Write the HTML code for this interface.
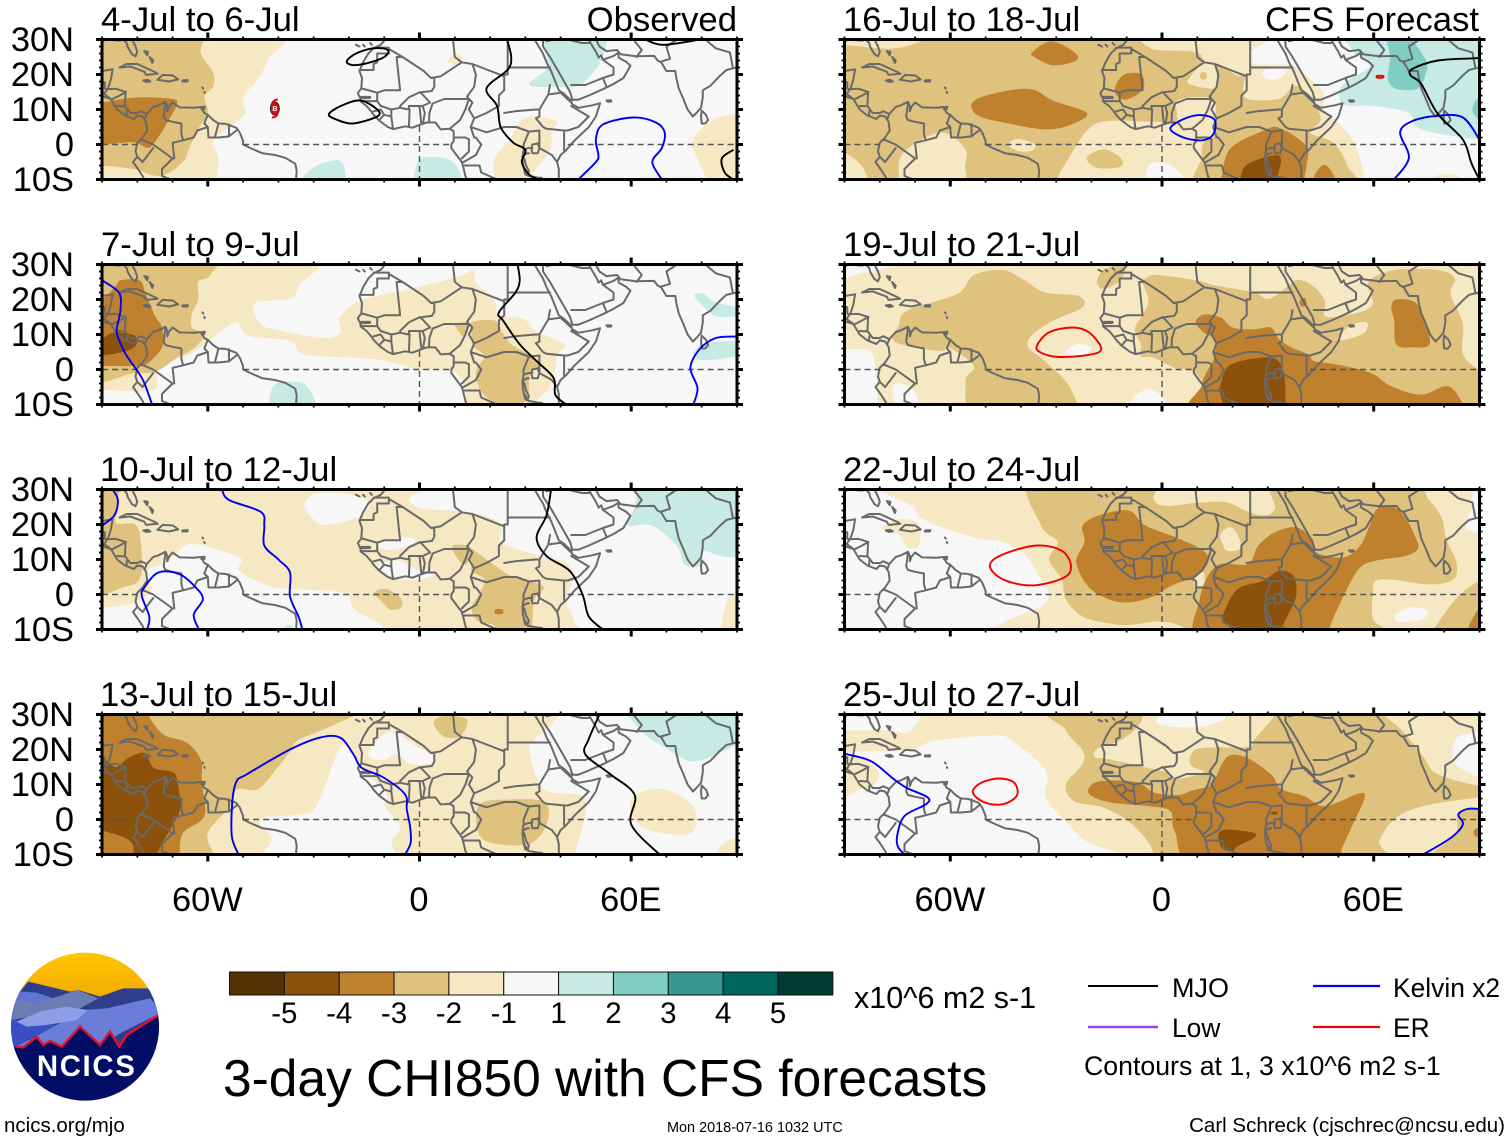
<!DOCTYPE html>
<html lang="en">
<head>
<meta charset="utf-8">
<title>3-day CHI850 with CFS forecasts</title>
<style>
html,body{margin:0;padding:0;background:#fff;}
svg{display:block;font-family:"Liberation Sans",Arial,sans-serif;fill:#000;}
</style>
</head>
<body>
<svg id="chart" xmlns="http://www.w3.org/2000/svg" width="1510" height="1142" viewBox="0 0 1510 1142">
  <rect x="0" y="0" width="1510" height="1142" fill="#fff"/>
  <g id="panels"></g>
  <g font-size="34.7">
    <text x="101" y="31">4-Jul to 6-Jul</text>
    <text x="101" y="256">7-Jul to 9-Jul</text>
    <text x="100" y="481">10-Jul to 12-Jul</text>
    <text x="100" y="706">13-Jul to 15-Jul</text>
    <text x="843" y="31">16-Jul to 18-Jul</text>
    <text x="843" y="256">19-Jul to 21-Jul</text>
    <text x="843" y="481">22-Jul to 24-Jul</text>
    <text x="843" y="706">25-Jul to 27-Jul</text>
    <text x="737" y="31" text-anchor="end">Observed</text>
    <text x="1479" y="31" text-anchor="end">CFS Forecast</text>
  </g>
  <g id="logo">
    <defs>
      <clipPath id="logoClip"><circle cx="255" cy="260" r="222"/></clipPath>
      <linearGradient id="sunGrad" x1="0" y1="0" x2="0" y2="1"><stop offset="0" stop-color="#ffc800"/><stop offset="1" stop-color="#f2a900"/></linearGradient>
    </defs>
    <g transform="translate(0,940) scale(0.33333)" clip-path="url(#logoClip)">
      <rect x="20" y="30" width="470" height="150" fill="url(#sunGrad)"/>
      <polygon fill="#2e3d8c" points="30,190 85,125 210,155 235,150 300,170 370,145 445,145 490,190 490,340 30,340"/>
      <polygon fill="#5f74d4" points="30,190 60,155 110,158 175,180 120,225 30,240"/>
      <polygon fill="#6d7db4" points="35,240 48,180 110,190 232,150 295,175 240,205 120,225"/>
      <polygon fill="#3a4ec6" points="30,238 175,255 90,295 30,325"/>
      <polygon fill="#6a7dd8" points="45,320 90,298 170,255 250,210 320,205 450,175 490,215 360,280 300,320 185,325 70,325"/>
      <polygon fill="#8e9ee6" points="50,245 120,215 200,200 262,210 230,240 140,255 80,260"/>
      <polygon fill="#020e66" points="20,322 45,320 70,322 110,290 130,315 150,303 185,320 240,260 300,315 330,275 358,320 380,285 490,215 490,500 20,500"/>
      <polyline fill="none" stroke="#e5102a" stroke-width="7" points="45,320 70,322 110,290 130,315 150,303 185,320 240,260 300,315 330,275 358,320 380,285 480,222"/>
      <text x="260" y="408" text-anchor="middle" font-family="Liberation Sans, sans-serif" font-weight="700" font-size="88" letter-spacing="5" fill="#fff">NCICS</text>
    </g>
  </g>
  <g id="colorbar"></g>
  <text x="854" y="1008" font-size="30.5">x10^6 m2 s-1</text>
  <text x="223" y="1096" font-size="51.5">3-day CHI850 with CFS forecasts</text>
  <g font-size="26.4">
    <line x1="1088" y1="986" x2="1158" y2="986" stroke="#000" stroke-width="2"/>
    <text x="1172" y="997" font-size="27">MJO</text>
    <line x1="1313" y1="986" x2="1380" y2="986" stroke="#0000ee" stroke-width="2.2"/>
    <text x="1393" y="997">Kelvin x2</text>
    <line x1="1088" y1="1027" x2="1158" y2="1027" stroke="#a040f0" stroke-width="2.6"/>
    <text x="1172" y="1037">Low</text>
    <line x1="1313" y1="1027" x2="1380" y2="1027" stroke="#f00000" stroke-width="2.2"/>
    <text x="1393" y="1037">ER</text>
    <text x="1084" y="1075" font-size="26.7">Contours at 1, 3 x10^6 m2 s-1</text>
  </g>
  <text x="4" y="1132" font-size="20.5">ncics.org/mjo</text>
  <text x="667" y="1132" font-size="14.45">Mon 2018-07-16 1032 UTC</text>
  <text x="1505" y="1132" font-size="20.5" text-anchor="end">Carl Schreck (cjschrec@ncsu.edu)</text>
</svg>
<script>
/* ---------- axis / legend values ---------- */
const latTickLabels = ["30N","20N","10N","0","10S"];
const latTickValues = [30,20,10,0,-10];
const lonTickLabels = ["60W","0","60E"];
const lonTickValues = [-60,0,60];
const colorbarLabels = ["-5","-4","-3","-2","-1","1","2","3","4","5"];
const colorbarColors = ["#543005","#8c510a","#bf812d","#dfc27d","#f6e8c3","#f7f7f7","#c7eae5","#80cdc1","#35978f","#01665e","#003c30"];
const levelLookup = {"-4":"#8c510a","-3":"#bf812d","-2":"#dfc27d","-1":"#f6e8c3","0":"#f7f7f7","1":"#c7eae5","2":"#80cdc1"};
const waveColors = {MJO:"#000000",Kelvin:"#0000ee",ER:"#f00000"};

/* ---------- map outlines (lon,lat) ---------- */
const coastLines = [
 [-90,29.3,-89,30,-85,29.7,-84,30],
 [-84,30,-83,29,-82.7,27.8,-81.5,25.8,-80.5,25.2,-80,26.5,-80.5,28,-81.5,30],
 [-90,21,-87,21.5,-87.5,18.5,-88.3,16,-88.8,15.8,-86,15.9,-83.3,15,-83.5,11,-82,9,-80,9,-79,9.5,-77.3,8.7,-75.5,10.7,-74,11.2,-72,12.2,-71.5,11,-71.5,9.5,-71,10.8,-70,12,-68,10.6,-64,10.5,-62,10.7,-61,9,-60,8.5,-58.5,7,-57,6,-55,5.9,-52,4.8,-51,3.5,-50,1,-50,0,-48,-1,-44.5,-2.5,-41,-3,-38,-3.8,-35.2,-5.5,-34.8,-7.5,-35,-10],
 [-90,13.8,-87.5,13,-85.7,10,-83.5,8.3,-81,7.3,-80,8.3,-78.5,8,-77.5,6.5,-77.2,4,-78.5,2,-80,0.5,-80.5,-2,-80,-3.5,-81.2,-5,-79.8,-7,-78.5,-9,-78,-10],
 [-85,22,-83,23,-80,23,-75,20.7,-74.2,20.2,-77.5,19.9,-78,20.8,-82,22.3,-85,22],
 [-74.3,18.5,-72.8,19.9,-69.9,19.7,-68.4,18.6,-71,18,-74.3,18.5],
 [-78.3,18.3,-77,18.5,-76.3,18,-77.5,17.9,-78.3,18.3],
 [-67.2,18.3,-65.7,18.4,-65.8,18,-67.2,18,-67.2,18.3],
 [-78,26.7,-77,26.5,-77.2,25.5,-78,26.7],
 [-76.5,25,-75.5,24,-75.7,23.3,-76.5,25],
 [-61.5,10.7,-60.9,10.8,-61,10.1,-61.8,10.1,-61.5,10.7],
 [-61.5,16.3,-61.3,16],[-61,15,-60.9,14.7],
 [-9.7,30,-11,28.5,-13,27.5,-14.5,26,-16,23.5,-17,21,-16.3,19,-16.5,16,-17.5,14.7,-16.7,13,-16.7,12.3,-15,11,-13.7,9.5,-13,8.5,-11.5,6.9,-9,5,-7.5,4.4,-4,5.2,-2,4.8,0,5.6,2,6.3,4.5,6.3,6,4.3,8.5,4.5,9.7,3.8,9.7,1,9,0,9,-1,10.5,-3,12,-5,12.3,-6,13,-9,13.5,-10],
 [39.5,-10,39.5,-7,39,-5,40,-3,41.5,-1.7,44,1.2,48,5,50,8,51.2,11.8,49,11.2,45,10.5,43.3,11.5,43,12.5,41,14.5,39.5,15.5,38.5,18,37.3,21,36,23.5,35,26,33.8,28,32.6,30],
 [35,30,35,28,37,25,39,21.5,41,18,42.7,15,43.3,12.8,45,12.8,48,14,52,15.8,55,17.3,57.8,19,59.8,22.5,58.5,23.7,56.5,24.8,56.3,26.2,55,25.3,52,24.2,51.5,25.5,50.8,24.8,50,26.5,48.5,29,48,30],
 [49,30,50,30,51,28,53,26.7,56,27,57,25.8,61.5,25.2,66.5,25.3,67.5,24,68.5,23.5,70,21,72.5,21,72.8,19,73.5,16,74.8,13,76,10,77.5,8,78.5,9,79.8,10.5,80.3,13.5,80.3,15.5,82.5,16.8,85,19.5,87,21.3,89,21.8,90,22],
 [80,9.7,81.2,8.5,81.8,7,81,6,80,6,79.8,8,80,9.7],
 [53,12.6,54.3,12.6,54.4,12.3,53.4,12.2,53,12.6],
 [32,0,33.5,0.3,34,-1,33.5,-2.5,32,-2.5,31.7,-1,32,0],
 [29.2,-3.5,29.3,-5.5,29.6,-7,30.7,-8.5,31,-7.5,30.2,-6,29.7,-4,29.2,-3.5],
 [34,-9.5,34.5,-10,35,-10,34.6,-9.5,34,-9.5],
 [-18,28.5,-17,28],[-16,28.5,-15.5,28],[-14,29,-13.5,28.5]
];
const borderLines = [
 [-13,27.7,-8.7,27.7,-8.7,26,-12,26,-12,23.5,-13,23,-13,21.3,-17,21.3],
 [-8.7,27.3,-4.8,25,-6.5,25,-5.5,15.5,-10,15.5,-12,14.8,-16.3,16],
 [-4.8,25,1.2,21,3.3,19,4.2,19,4.2,16.5,3.5,15.3,1,15,0.2,14.8],
 [-5.5,11,-3,13.5,0.2,15,3,12,0.9,11],
 [3.3,19,6,19.5,12,23.5,10,25,9.5,30],[12,23.5,15,23,24,19.5,24,20,25,20,25,30],[25,22,37,22],
 [15,23,16,20,15.5,16.5,13.5,13.7,14,13,12.5,13,7,13,3.7,11.7,2.8,9,2.7,6.3],
 [24,19.5,24,15.5,22.5,14,22.5,11,19,9,15.5,7.5,14,10,15,12,14,13],
 [14,13,13,10,11.5,7,8.7,4.6],[1,6,1.5,9,0.9,11],[-5.5,10.5,-3,10,-3,11,0,11,0.9,11],
 [-3,5,-2.8,10,-3,10],[0.5,6,0,11],[-8,8,-7.5,4.4],[-16.7,12.4,-12,12.4,-11,11,-8,10,-5.5,10.5,-5.5,11],
 [-8,10,-8,8,-10,8.5,-11.5,6.9],[-13,9.5,-11,10,-10,8.5],[-12,14.8,-12,12.4],
 [-16.6,13.6,-14,13.6,-14,13.3,-16.6,13.2],
 [24,9,27,9.5,33,10,34,10],[37,17,36.5,14.3,34,10,34,8,33,7.5,35,5,36,4.5,41,4,42,4],
 [41,4,41,-1.7],[42,4,45,5,48,8,43,11],[36.5,14.3,40,14.8,43,12],[34,4,34,1,34,-1,37.5,-3,39,-5],
 [31,3.7,34,4],[14.5,5,19,3.5,24,5,27.5,5,31,3.7,29.5,0,29.5,-1.5,29.2,-3.5],
 [10,2,13,2,14,1.5,14,-2,12,-4],[15.5,7.5,14.5,5,15.5,2,16,2,17.5,0,16,-3,12.5,-5],
 [12.5,-6,17,-6,17.5,-8,22,-10,22,-13],[31,-9,34,-9.5,35,-10,39.5,-10.5],[29.6,-7,30,-8.5,31,-9],[29.5,-1.5,30.8,-1,32,-1],[29.3,-3.2,30.5,-2.5,31,-2.5],
 [43,17,47,17,52,19,55,20,55,22,52,24.2],[52,19,53,16.5],[36,29.5,38,30],[42,30,46,29,48,29],
 [68.5,23.7,71,24.5,70,28,73,30],[61.5,25,63,27,61,29.5,61,30],[81,30,84,27.5,88,26.3,88.8,22],
 [-89.2,17.8,-89.2,15.9],[-90,17.8,-89.2,17.8],[-88.5,15.8,-89.4,14.4,-87.7,13.2],[-87,13,-85,14,-83.2,15],[-85.7,11,-83.7,10.9],[-83,9.5,-83,8.3],[-77.3,8.7,-77.9,7.2],
 [-72,12,-72.5,8,-72,7,-70,6.5,-67.5,6,-67.5,3,-67,1.2],[-60,8.5,-61,6,-60,5,-59.8,2,-57,2],[-57,6,-58,2],[-54,5.8,-54,2.3],[-51.5,4.3,-54,2.3,-57,2],
 [-60,5,-63,4,-64,2,-67,1.2,-70,0.5,-69.5,-4],[-79,1.5,-75.5,0,-70,-4],[-80,-3.5,-78.5,-5,-75.5,-1],[-70,-4,-73,-7,-73,-9,-70.5,-10]
];

/* ---------- contour fills per panel: [level, lon,lat outline] ---------- */
const fills4Jul = [
 [-1,[-95,34,-40,34,-43,24,-46,18.5,-50,13.4,-49.5,9,-53.7,5,-58.5,1.4,-57,-4,-57.6,-10,-57.6,-14,-95,-14]],
 [-2,[-95,34,-63.6,34,-62,26,-58.5,20.5,-58.5,16.5,-61,13.7,-60,9,-63,4,-65.5,-1.5,-67,-5,-73.5,-9,-81,-7,-90,-6,-95,-6]],
 [-3,[-95,12,-90,12,-81,13.4,-70,13,-69,11,-71.5,6.3,-74.5,1.4,-77,-1,-81,0.6,-90,0,-95,0]],
 [-1,[21,-5,25.5,1.4,29,7,34,8,39,6.5,37.5,4,37,-1.5,32.5,-8,30,-13,23,-13]],
 [-1,[77.5,1.4,83,7,89,8.5,95,8.5,95,-14,81.5,-12,81.5,-10,78.7,-4]],
 [-1,[8,24,10,26,12,25,11.5,23,9,23]],
 [1,[36,34,53,34,53,29,51,23,45.5,17,40,16.5,31,17,36,21.4,36,25]],
 [1,[-0.5,-5,4,-3.5,9.5,-5,12,-10,12,-14,-0.5,-14]],
 [1,[-33,-9.5,-29,-6,-22,-5,-22,-14,-33,-14]]
];
const fills7Jul = [
 [-1,[-31,34,-34.4,23.6,-36.7,20.2,-46.8,18.8,-45,13,-39,11,-27,9,-22.5,10.6,-22.5,15,-16.6,19.7,-4.7,22.6,10.7,26.4,15.4,28.4,16,25,21.3,19.7,22.5,15.4,29.6,14.4,33,11,41,7.2,39,4.3,38.5,0.5,36.7,-5.3,33,-9,31,-14,14,-14,13,-5.8,9.5,-0.5,0,0,-9.5,2.4,-19,3.4,-33,4.3,-36.7,8.2,-48.6,9.6,-52,13.5,-59,8.7,-65,4.3,-68,3.4,-74,0.5,-74.6,-5.3,-79.4,-6.3,-90,-5.8,-95,-6,-95,34]],
 [-2,[-95,34,-58.6,34,-59.3,27,-62.7,25,-62.7,20,-64.5,15.9,-64.5,12,-61,10,-64,6,-68.7,3.4,-74.6,-0.5,-80.6,-1,-95,-1]],
 [-2,[14.8,13.5,21.3,14,23.5,10.6,26,7.2,30.8,4.3,34.4,1.4,31.4,-1.4,30.8,-7.2,29.6,-9.3,25,-10.5,20,-8.7,17.2,-5.8,16,-0.5,18.4,3.8,15.2,6.7,14.8,10.6]],
 [-2,[10,13,13,13.5,14.2,12.5,12.4,9.6,10.7,11.5]],
 [-3,[-95,18,-90,20,-86,24,-84.7,25.5,-79.4,25.5,-77.6,21.6,-75,15.4,-73,12,-73,6.3,-77.6,1.4,-81,1,-89,1,-95,1]],
 [-4,[-95,9,-90,9,-86.5,10.6,-80.6,9.6,-80.6,6.7,-85,4.8,-95,4]],
 [1,[-41.5,-4.8,-35.5,-3.5,-32,-4.8,-29.6,-9,-29.6,-14,-41.5,-14]],
 [1,[78,21,80.6,21.7,84,19.2,93,17,93,15.8,85.3,15,81.8,16.8]],
 [1,[78,5.3,81.8,7.7,95,8,95,5.3,85.3,3,78.5,3]]
];
const fills10Jul = [
 [-1,[-95,34,-3.5,34,-3,27,1,24.5,10.7,23.9,20,22,23.3,19,23.3,15,32.3,11.5,41.7,9,43.5,4.3,41.5,-1.4,44,-8,45,-14,-9.5,-14,-10.6,-9,-18.4,-4.3,-21.4,0.5,-33,1.4,-42.6,2.4,-51,6.7,-51,10.6,-64,14.4,-68.7,12,-72,9,-77,7,-76.4,3.4,-76,1,-80.6,-2.4,-90,-3.8,-95,-4]],
 [0,[-32.6,26,-29.6,28.8,-21.3,28.8,-14.2,26.4,-16.6,22.6,-22.5,20.5,-27.8,20,-31.4,23]],
 [0,[-11.8,15,-3.5,16.3,-1.2,15,-6,13,-10.6,13]],
 [0,[-11.8,8.2,-6,9.6,1.2,6.3,4,5.8,0,4.3,-7,4.8]],
 [-1,[86,-14,86.5,-4.3,89,0,95,0,95,-14]],
 [-2,[-95,34,-86,34,-85.5,25,-86,20.5,-80.6,20,-79,15,-79,5.3,-83,2.4,-95,2]],
 [-2,[-12.8,0.5,-9.5,1.6,-5.3,-1,-5.3,-3.8,-8.3,-4.3,-10.7,-2]],
 [-2,[9.5,14,13.6,14,15,13,19,10,26,5.3,35,2.4,32.6,-1.4,32,-9,33,-14,21.3,-14,21.3,-9,16.6,-7.7,14.8,-3.8,17.2,0.5,18.4,4.3,14.8,6.7,14.8,9.6,12.4,8.6,10,11.5]],
 [-3,[21.5,-4.3,23.5,-4.3,23.5,-5.5,21.5,-5.5]],
 [1,[61,34,95,34,95,10.6,90,10.6,85.3,11,80,12.5,79.4,8.2,75,8.7,72.9,14,65.8,19.7,59.2,19.7,60.4,23.6,61.6,28.4]],
 [1,[-38,-9,-36,-9,-35,-12,-38,-12]]
];
const fills13Jul = [
 [-1,[-95,34,30,34,31,20,35.5,8.6,47,5.7,44,-10,44,-14,-95,-14]],
 [0,[-22.5,20.5,-19.7,20,-16.9,14.8,-9.3,7.6,-9.8,3.8,-5.5,-1.9,-7.9,-6.6,-8.4,-14,-44.3,-14,-41.9,-5.7,-45.2,0,-33,1.5,-29.2,3.8,-25.4,13.4]],
 [0,[-14,20,-10.2,24.3,-6.5,24.8,-1.7,21.4,4,18,3,16,-2.7,16,-6.5,18.6,-10.2,17,-14,17.6]],
 [-2,[4,27.6,6.8,29.5,13.4,28.6,11.5,23.8,6.8,23.8]],
 [-2,[17,4.3,25.6,5.7,35.5,4.9,36,-1.4,31,-7,20,-6.6,16.5,-3]],
 [-1,[61,7,69.6,8.6,78,3,76.7,-4,65,-3,60,1.5]],
 [-1,[84,-14,85,-8,90,-5,95,-5,95,-14]],
 [1,[60,34,62.5,25.7,69.6,20.6,78,16.6,90,21.4,95,24,95,34]],
 [-2,[-95,34,-10,34,-17.8,30,-27.2,25.7,-34.8,22.4,-37,19,-41.4,13.4,-46,8.6,-51.8,8.6,-53.7,3.8,-60,-3.8,-58.4,-10,-58,-14,-95,-14]],
 [-3,[-95,34,-77,34,-76.9,30,-72.6,24.3,-66,22,-62,17,-61.7,10.5,-61,1,-67,-3.8,-68,-10,-68,-14,-95,-14]],
 [-4,[-95,18,-90,17.5,-86,15,-82.5,17.6,-77.8,19,-75.4,14.8,-69.8,13.4,-68.4,9.6,-67.9,2.9,-70.7,-2.8,-74.5,-10,-75,-14,-81,-14,-81.6,-6.6,-89.6,-3.3,-95,-3]]
];
const fills16Jul = [
 [-1,[-95,34,22,34,25,26,26,23,36.7,22.6,41.5,19.2,45.6,14.9,46.2,10,49.8,6.3,54.5,0.5,57.5,-10,57.5,-14,-95,-14]],
 [-1,[75.5,-14,76,-10,80,-8.5,85,-9.5,87,-14]],
 [0,[28.4,20.7,32,22,35.5,21,33,18.8,29.6,18.8]],
 [0,[-4,-6.7,-1.2,-5,3,-6.3,8.3,-12,8,-14,-4,-14]],
 [-2,[-95,28,-90,28.4,-77,27.4,-68.7,29.3,-60,34,-15,34,-4.7,28.4,-1.2,27,9.5,26.4,11.3,23.6,8.3,19.7,7.7,17.3,15.4,16.3,15.4,23,21.3,19.7,23.7,20.2,23,15.9,24.3,13,33,13,38,16.8,42,13.5,45,7.2,42,3.4,48.6,0.5,52.7,-6.3,54,-14,12,-14,11.3,-3.4,11.8,0.5,14.8,2.4,15,6,14.8,12.5,10,13.5,4.3,12.5,4.2,8.6,2.4,6.5,-15.4,6.7,-21.4,3.8,-26.7,-4.3,-29.6,-9.8,-30,-14,-52,-14,-55.7,-7.2,-55.7,-1.4,-62.7,3.4,-73.4,-2.4,-74.6,-10,-74.6,-14,-81,-14,-85,-6.3,-90,-2.4,-95,-2]],
 [-1,[-43.2,0.7,-40.3,1.6,-36,0,-36.7,-1.6,-40.3,-2,-43,-0.7]],
 [-2,[-21.3,-3.8,-16.6,-1.4,-11.8,-3.8,-11.8,-6.3,-18.4,-6.7]],
 [-2,[11,20.5,12.5,20.5,12.5,18.8,11,18.8]],
 [-3,[-36.7,26.4,-31.4,29.5,-24.9,26.4,-24.3,24,-30.8,22.6,-36.2,25]],
 [-3,[-54,11.5,-49.8,14,-37.9,15.9,-30.8,12.5,-21.3,9,-25.5,5.8,-33,4.3,-45,6.3,-52,8.2]],
 [-3,[-13.3,16.3,-10.7,20,-5.9,20,-5.3,15.9,-9.5,13,-12.4,13.5]],
 [-3,[17.2,-8.2,19.5,-1,28.4,3.8,33.2,4.8,40.9,-0.5,40.9,-6.3,40.3,-10,40,-14,17,-14]],
 [-3,[43.2,-9,46.2,-5.8,49.2,-10,49.2,-14,43.2,-14]],
 [-4,[22.7,-7.7,26,-4.8,33.2,-3.2,33,-8.2,30.8,-12,30.8,-14,23,-14]],
 [1,[54,34,54.5,26.4,59.2,22.6,51,16.8,51.5,11.5,60.4,11,70,9,73.5,4.3,90,1.4,95,1,95,34]],
 [2,[62.8,34,67,34,74.6,24.5,74.6,19.7,72.3,15.9,66.4,15.9,64,18.8,64.6,25.5]],
 [2,[90,13.5,88,10,90,7.2,95,7,95,14]]
];
const fills19Jul = [
 [-1,[-95,34,95,34,95,-14,-95,-14]],
 [0,[-95,34,-76,34,-76,30,-85,27.5,-90,26,-95,26]],
 [0,[-95,6,-90,5.8,-83,5.3,-81,-0.5,-80.6,-10,-80.6,-14,-95,-14]],
 [0,[-76.4,-5.3,-74,-4,-69.5,-7.2,-69.5,-14,-74.6,-14]],
 [0,[-9.5,-10,-4.7,-5.8,0,-7.7,1.8,-14,-9.5,-14]],
 [0,[-27.3,4.8,-24.3,7.2,-20,6.3,-22.5,3.8]],
 [-2,[-74.6,12.5,-72.3,16.8,-58,21.6,-53.3,27,-45,28.4,-39,25.5,-33.2,22,-23.7,21,-22.5,17.8,-30.8,14,-36.7,10,-37.9,6.3,-33.2,2.4,-26,-5.3,-26,-14,-52,-14,-55.7,-3.4,-53.3,1,-60.4,6.3,-62.7,5.3,-72,6.7,-76.4,8.7]],
 [-2,[-18.4,25,-16.6,28.4,-10.7,30,-11.8,25.5,-16.6,23]],
 [-2,[-4.7,26,-1.2,27,9.5,25.5,15.4,24,26,22,29.6,20.2,33,21.6,38,25.5,42.6,24,46.2,19.7,46.8,15,59.2,17.8,58.6,25,66,28.4,78.2,28.4,83,26,81.8,21.6,85.3,13,85.3,4.3,90.6,-0.5,95,-1,95,-14,10,-14,12.4,-6.3,8.9,-0.5,3.5,0.5,-2.4,3.4,-6,3.8,-6,7.2,-7.7,11.5,-5.3,15.9,-3.8,19.7,-5.3,24.5]],
 [-1,[49.8,8.7,53.3,12.5,58,13.5,57.5,10.6,52.7,8.7]],
 [-3,[9.5,13.5,11.8,15.7,16.6,14.9,20,12,26,11.5,30.8,12,33.2,8.7,36.7,6.3,41.5,4.3,43.2,2.4,49.8,1.4,59.2,-1,65,-4.8,73.5,-7.2,81,-4.8,85.3,-10,85.3,-14,13,-14,11.3,-4.3,14.8,3.4,14.8,8.7,11.8,10.6]],
 [-3,[65,17.8,66.4,20,71.7,19.2,74.6,14,75.8,7.2,71,6.3,66.4,7.2,65.8,14]],
 [-3,[39,19.5,40.5,20.5,41,18.5,39.5,18]],
 [-4,[16.6,-4.3,19.5,1.4,30.8,3.4,34.4,-0.5,35,-10,34.4,-14,20,-14,16.6,-7.2]]
];
const fills22Jul = [
 [-1,[-68,34,-70,24.5,-65,20.2,-53.3,16.3,-45,15,-39,11.5,-34.3,4.3,-32,0.5,-34.3,-3.4,-45,-8.2,-47,-14,95,-14,95,34]],
 [-1,[-79.4,18.8,-74.6,21.6,-69,20.2,-69,14,-72.3,13.5,-74.6,17.3]],
 [0,[88,25.5,86,19.7,90,17.3,95,17,95,34,88,34]],
 [-2,[-36.7,34,-3,34,-2.4,27.4,1.2,25.3,10,26.2,17.8,26.4,23.7,24,28.4,22.6,32,24.5,33,34,68,34,75.8,26.9,79.4,21.6,80.5,16,83.5,9,82.5,4.3,75.8,2.9,61.6,4.3,59.8,-0.5,59.8,-7,63,-14,7,-14,7,-10,0,-7.7,-9.5,-8.7,-15.4,-8.2,-22.5,-6.3,-27.3,-1.4,-28.4,4.3,-32,10,-29.6,15,-34.3,19.7]],
 [-1,[16.6,17.3,19.5,19.2,22,15.9,22,13,18.4,12.5,17,14.9]],
 [-1,[9.5,4.8,11.8,6.3,11.8,2.4,9.5,2.4]],
 [0,[66.4,-5.8,71,-3.6,75.2,-4.8,73.5,-7.2,67,-7.7]],
 [-2,[75.5,-14,78.2,-8.2,84,-0.5,90,3.8,95,3.8,95,-14]],
 [-3,[-22.5,19.7,-17.8,22.6,-9.5,24,-4.7,19.7,4,16.3,11.8,12.5,13,9,9.5,5.3,2.4,2.4,-3.6,-1,-11.8,-2.2,-20,1.4,-24.3,9,-22,15]],
 [-3,[11.8,-14,10.7,-1.4,15.4,8.2,24.3,8.7,27.3,14,32,17.8,38,19.2,42.6,15.9,43.8,12,51.5,10.6,56.2,14,59,20,61,24.5,65.2,25.3,69,22,72,16,72.5,13,69,11,60.4,9.6,55.7,7.2,51,-1.4,47.4,-10,47.4,-14]],
 [-3,[85.9,-14,90,-3.8,95,-4,95,-14]],
 [-4,[17.2,-6.3,21.3,1.4,28.4,3.8,33.2,6.7,37.3,5.3,38,-0.5,35.5,-6.3,33.8,-10,33.8,-14,21,-14,19,-8.7]]
];
const fills25Jul = [
 [-1,[-68,34,-68,30,-72,25,-78,25.5,-85,25.5,-90,25.5,-95,25.5,-95,18,-90,19,-84,19.5,-74,19.7,-68.7,20.7,-64,22.6,-47.4,24,-42.7,22.6,-33,14,-33,6.3,-27.8,0,-21.3,-6.3,-11.8,-10,-11.8,-14,95,-14,95,34]],
 [-1,[-95,19,-90,19,-85.3,17.8,-80.6,14,-81,10.6,-86.5,8.2,-90,6.4,-95,6]],
 [0,[83,22.6,86.5,24.5,90,25,95,25,95,12,90,12,83,16.3]],
 [-2,[-28,34,-27.2,25.5,-22.5,19.7,-22.5,15.9,-27.2,10,-25,5.3,-16.6,3.4,-9.5,-0.5,-4.1,-6.2,-2.4,-10,-2.4,-14,60.4,-14,61.6,-6.2,66.4,0.5,74.8,4,90,6.3,95,6.3,95,10,90,9.6,78,13,74,18,68,25.5,62.8,30,60,34]],
 [-1,[-5.3,34,-5.3,30,-7,26.4,-11.8,22.6,-18.4,20.2,-19,17.8,-15.4,17.3,-4.7,14.9,1.2,13.5,3.5,11.5,11.8,13.5,8.3,15.4,8.3,18.8,11.8,20.5,24.3,20.7,26,22.6,28.4,25.5,32,30,32,34]],
 [0,[-1.2,34,-1.2,30,-0.6,27,10,26.4,17.2,28.4,17.8,30,17.8,34]],
 [-2,[73.5,-14,83,-4.3,84,1.4,90,3.4,95,3.4,95,-14]],
 [-3,[88.5,-3,90,-2.5,90,-5,88.5,-4.5]],
 [-3,[-20.7,9,-17.2,11,-7,10.6,-2.4,7.7,4.7,7,8.3,8.2,13.6,9.6,14.8,11,18.4,17.8,23.7,17.8,30.8,13,33.8,8.7,40.3,6.7,46.2,3.8,55.7,7.4,57.5,6.3,54.5,-0.5,51,-8.2,48.6,-14,10.7,-14,3.6,-3.4,2.4,2.4,-3.6,3.8,-14.2,4.8,-20,6.7]],
 [-4,[16,-4.3,18.4,-2.9,26,-3.8,26,-5.3,21.3,-7.7,20,-9,17,-8.2]],
 [-4,[31,2.2,32.6,2.2,32.6,1.5,31,1.5]]
];

/* ---------- wave contours per panel: [wave, closed, lon,lat path] ---------- */
const waves4Jul = [
 ["MJO",1,[-20.6,23.8,-18,26,-13,27.5,-9,27,-10,25,-15,23.2,-19,22.7]],
 ["MJO",1,[-25.7,8.6,-22.5,10.9,-16.9,12.6,-12,10,-12,8,-18.9,6,-23.4,7.1]],
 ["MJO",0,[24.8,30,26,25,25,21.4,19,16,22,11,23,5,26.5,0.6,30,-1.5,29,-5,31,-8.5,33.5,-10]],
 ["MJO",0,[64,30,69,28.5,79.5,30]],
 ["MJO",0,[89,-1.5,85.7,-4,86.5,-8,89,-10]],
 ["Kelvin",0,[45,-10,50,-5,50.7,-3,50,1.4,52,5.7,60.5,7.7,67,6.3,69.5,3.4,68.7,-1,66,-5,68.7,-10]]
];
const waves7Jul = [
 ["MJO",0,[27.8,30,28.4,25.5,27.2,22,22.5,16.3,23.7,14,28.4,7.2,33.2,2.4,38,-2.4,38.5,-7.2,41.5,-10]],
 ["Kelvin",0,[-90,25.5,-85.2,22,-84.7,17.8,-85.2,14.4,-85.8,10.6,-83.5,4.8,-80.6,0.5,-78.2,-3.4,-75.8,-10]],
 ["Kelvin",0,[90,9.4,84,9,79.4,5.8,76.8,0.5,78.8,-5.3,77.6,-10]]
];
const waves10Jul = [
 ["Kelvin",0,[-87,30,-85.5,27,-86.5,22.6,-90,19.7]],
 ["Kelvin",0,[-56,30,-54,27,-45,23.6,-44,19.7,-44,14,-40,10,-36.7,6.3,-36.7,-0.5,-34.3,-6.3,-33.2,-10]],
 ["Kelvin",0,[-77.2,-10,-76.6,-6.3,-78.7,-0.5,-78,2,-74,6.3,-68,5.8,-63.4,2,-61.4,-1.4,-64,-5.8,-62.5,-10]],
 ["MJO",0,[37.3,30,36,22.6,33.2,16.3,36,11,42.6,6.7,46.2,0,48,-6.3,52,-10]]
];
const waves13Jul = [
 ["Kelvin",0,[-51.3,-10,-53.2,-4.7,-53,5.7,-51.8,11,-49,12.9,-36.7,20,-28.2,23.4,-22.5,23.4,-18.7,18.6,-16.4,14.8,-10.2,12,-4.1,7.2,-3.6,2.9,-2.7,-1.9,-2.5,-6.6,-4.1,-10]],
 ["MJO",0,[51,30,48,23,47,18.6,54,13,61,7,60,-1.4,68,-10]]
];
const waves16Jul = [
 ["Kelvin",1,[2.4,4.8,6,7.2,10.7,8.4,14.8,7.2,14.8,3.4,12.4,1.4,8.3,1.4,4.1,2.9]],
 ["Kelvin",0,[65.8,-10,70,-3.8,67.5,3.4,71,6.7,78.2,8.2,85.3,7.7,90,1.4]],
 ["MJO",0,[90,24.7,78.2,24,71,21.6,70.5,19.7,73.5,17.3,78.2,8.7,85.3,1.4,87.7,-5.3,90,-10]],
 ["ER",1,[61,19.6,62.6,19.6,62.6,19.1,61,19.1]]
];
const waves19Jul = [
 ["ER",1,[-35.5,6.7,-32,10.6,-25.5,12,-20.7,10.6,-17.2,5.8,-21.3,4.1,-29.6,3.6,-34.3,4.8]]
];
const waves22Jul = [
 ["ER",1,[-48.8,8.2,-45,11.5,-35.5,14,-28.4,12.5,-25.8,8.2,-27.8,4.8,-36.7,2.6,-45,4.3]]
];
const waves25Jul = [
 ["Kelvin",0,[-90,18.8,-84,17.3,-80.6,15.4,-76,11.5,-72.3,9,-66.4,6.3,-67,4.3,-73,1,-75,-4.3,-74.9,-7.7,-72.9,-10]],
 ["Kelvin",0,[74,-10,81.8,-5.3,85.3,-1.4,84,1.4,86.5,3,90,3]],
 ["ER",1,[-53.6,8.2,-51,10.6,-46.2,11.7,-42,10.6,-41,7.2,-43.8,4.8,-48,4.3,-52,5.8]]
];

/* tropical cyclone marker position, panel 1 */
const cycloneLon = -41;
const cycloneLat = 10.3;
const cycloneName = "B";

const panelFills = [fills4Jul,fills7Jul,fills10Jul,fills13Jul,fills16Jul,fills19Jul,fills22Jul,fills25Jul];
const panelWaves = [waves4Jul,waves7Jul,waves10Jul,waves13Jul,waves16Jul,waves19Jul,waves22Jul,waves25Jul];
const panelNames = ["4-jul","7-jul","10-jul","13-jul","16-jul","19-jul","22-jul","25-jul"];

/* ---------- layout ---------- */
const NS = "http://www.w3.org/2000/svg";
const colX = [102, 844.5];
const rowY = [39.5, 264.5, 489.5, 714.5];
const panelW = 635, panelH = 140;

function mk(tag, attrs, parent){
  const el = document.createElementNS(NS, tag);
  for (const k in attrs) el.setAttribute(k, attrs[k]);
  parent.appendChild(el);
  return el;
}
function pairs(flat, sx, sy){
  const out = [];
  for (let i = 0; i + 1 < flat.length; i += 2) out.push([sx(flat[i]), sy(flat[i+1])]);
  return out;
}
function f(n){ return n.toFixed(1); }
function smoothClosed(P){
  const n = P.length;
  let d = "M" + f(P[0][0]) + " " + f(P[0][1]);
  for (let i = 0; i < n; i++){
    const p0 = P[(i-1+n)%n], p1 = P[i], p2 = P[(i+1)%n], p3 = P[(i+2)%n];
    d += "C" + f(p1[0]+(p2[0]-p0[0])/6) + " " + f(p1[1]+(p2[1]-p0[1])/6) + " " +
         f(p2[0]-(p3[0]-p1[0])/6) + " " + f(p2[1]-(p3[1]-p1[1])/6) + " " + f(p2[0]) + " " + f(p2[1]);
  }
  return d + "Z";
}
function smoothOpen(P){
  const n = P.length;
  let d = "M" + f(P[0][0]) + " " + f(P[0][1]);
  for (let i = 0; i < n-1; i++){
    const p0 = P[Math.max(i-1,0)], p1 = P[i], p2 = P[i+1], p3 = P[Math.min(i+2,n-1)];
    d += "C" + f(p1[0]+(p2[0]-p0[0])/6) + " " + f(p1[1]+(p2[1]-p0[1])/6) + " " +
         f(p2[0]-(p3[0]-p1[0])/6) + " " + f(p2[1]-(p3[1]-p1[1])/6) + " " + f(p2[0]) + " " + f(p2[1]);
  }
  return d;
}
function straight(P){
  return "M" + P.map(p => f(p[0]) + " " + f(p[1])).join("L");
}

const panelsRoot = document.getElementById("panels");
const defs = mk("defs", {}, panelsRoot);

panelFills.forEach(function(fills, idx){
  const col = idx < 4 ? 0 : 1;
  const row = idx % 4;
  const x0 = colX[col], y0 = rowY[row];
  const sx = lon => x0 + (lon + 90) * panelW / 180;
  const sy = lat => y0 + (30 - lat) * panelH / 40;

  const clip = mk("clipPath", {id: "clip" + idx}, defs);
  mk("rect", {x: x0, y: y0, width: panelW, height: panelH}, clip);

  const g = mk("g", {}, panelsRoot);
  
  

  const inner = mk("g", {"clip-path": "url(#clip" + idx + ")"}, g);
  const bg = mk("rect", {x: x0, y: y0, width: panelW, height: panelH, fill: "#f7f7f7"}, inner);
  
  

  fills.forEach(function(item){
    const p = mk("path", {d: smoothClosed(pairs(item[1], sx, sy)), fill: levelLookup[item[0]]}, inner);
    
    
  });

  /* coast + borders */
  let mapD = "";
  coastLines.forEach(l => { mapD += straight(pairs(l, sx, sy)); });
  borderLines.forEach(l => { mapD += straight(pairs(l, sx, sy)); });
  const mp = mk("path", {d: mapD, fill: "none", stroke: "#696969", "stroke-width": 2, "stroke-linejoin": "round", "stroke-linecap": "round"}, inner);
  
  

  /* reference lines */
  [[-90,-80],[-50,9],[42,90]].forEach(function(seg){
    const eq = mk("line", {x1: sx(seg[0]), x2: sx(seg[1]), y1: sy(0), y2: sy(0), stroke: "#555", "stroke-width": 1.4, "stroke-dasharray": "6 4"}, inner);
    
    
  });
  const mer = mk("line", {x1: sx(0), x2: sx(0), y1: sy(5.3), y2: sy(-10), stroke: "#555", "stroke-width": 1.4, "stroke-dasharray": "6 4"}, inner);
  
  

  /* wave contours */
  panelWaves[idx].forEach(function(w){
    const pts = pairs(w[2], sx, sy);
    const d = w[1] ? smoothClosed(pts) : smoothOpen(pts);
    const p = mk("path", {d: d, fill: "none", stroke: waveColors[w[0]], "stroke-width": 1.9}, inner);
    
    
  });

  /* cyclone on first panel */
  if (idx === 0){
    const cx = sx(cycloneLon), cy = sy(cycloneLat);
    const c1 = mk("ellipse", {cx: cx, cy: cy, rx: 4.6, ry: 6.6, fill: "#d40f14", stroke: "#222", "stroke-width": 0.8}, inner);
    
    
    const c2 = mk("path", {d: "M" + f(cx+3) + " " + f(cy-9) + "Q" + f(cx-1) + " " + f(cy-9) + " " + f(cx-3) + " " + f(cy-5) + "M" + f(cx-3) + " " + f(cy+9) + "Q" + f(cx+1) + " " + f(cy+9) + " " + f(cx+3) + " " + f(cy+5), fill: "none", stroke: "#d40f14", "stroke-width": 2}, inner);
    
    
    const ct = mk("text", {x: cx, y: cy + 2.6, "text-anchor": "middle", "font-size": 7, "font-weight": 700, fill: "#fff"}, inner);
    ct.textContent = cycloneName;
    
    
  }

  /* ticks */
  let minor = "", major = "";
  for (let lat = -10; lat <= 30; lat += 2){
    const isMajor = (lat % 10 === 0);
    const s = "M" + f(x0) + " " + f(sy(lat)) + "h" + (isMajor ? -6 : -3) + "M" + f(x0+panelW) + " " + f(sy(lat)) + "h" + (isMajor ? 6 : 3);
    if (isMajor) major += s; else minor += s;
  }
  for (let lon = -90; lon <= 90; lon += 10){
    const big = lon % 60 === 0 && lon !== 90 && lon !== -90;
    const s = "M" + f(sx(lon)) + " " + f(y0) + "v" + (big ? -7 : -3) + "M" + f(sx(lon)) + " " + f(y0+panelH) + "v" + (big ? 7 : 3);
    if (big) major += s; else minor += s;
  }
  const tMin = mk("path", {d: minor, stroke: "#000", "stroke-width": 1.8, fill: "none"}, g);
  
  
  const tMaj = mk("path", {d: major, stroke: "#000", "stroke-width": 3, fill: "none"}, g);
  
  
  const frame = mk("rect", {x: x0, y: y0, width: panelW, height: panelH, fill: "none", stroke: "#000", "stroke-width": 3}, g);
  
  

  /* latitude labels: left column only */
  if (col === 0){
    latTickValues.forEach(function(v, i){
      const t = mk("text", {x: x0 - 28, y: sy(v) + 11.7, "text-anchor": "end", "font-size": 34.4}, g);
      t.textContent = latTickLabels[i];
      
      
    });
  }
  /* longitude labels on the bottom row */
  if (row === 3){
    lonTickValues.forEach(function(v, i){
      const t = mk("text", {x: sx(v) - 0.5, y: 911, "text-anchor": "middle", "font-size": 34.4}, g);
      t.textContent = lonTickLabels[i];
      
      
    });
  }
});

/* colorbar */
const cb = document.getElementById("colorbar");
const cbX = 229.5, cbY = 972, cbBoxW = 54.85, cbBoxH = 23;
colorbarColors.forEach(function(col, i){
  const r = mk("rect", {x: cbX + i*cbBoxW, y: cbY, width: cbBoxW, height: cbBoxH, fill: col, stroke: "#111", "stroke-width": 1}, cb);
  
  
});
colorbarLabels.forEach(function(lab, i){
  const t = mk("text", {x: cbX + (i+1)*cbBoxW, y: 1023, "text-anchor": "middle", "font-size": 29.5}, cb);
  t.textContent = lab;
  
  
});
</script>
</body>
</html>
